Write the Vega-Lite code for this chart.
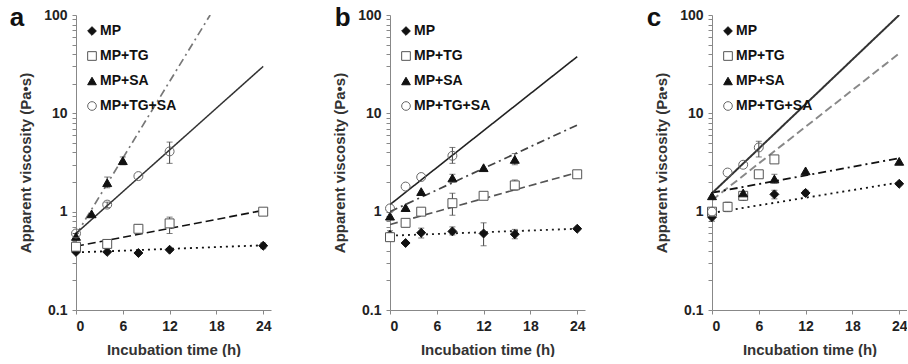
{
  "$schema": "https://vega.github.io/schema/vega-lite/v6.json",
  "padding": {"left": 9, "top": 5, "right": 0, "bottom": 0},
  "background": "white",
  "config": {
    "font": "Liberation Sans",
    "view": {"stroke": null},
    "axis": {
      "labelFont": "Liberation Sans", "labelFontSize": 14, "labelFontWeight": "bold", "labelColor": "#222",
      "titleFont": "Liberation Sans", "titleFontSize": 15, "titleFontWeight": "bold", "titleColor": "#333",
      "domainColor": "#888", "tickColor": "#888", "grid": false, "tickSize": 4, "labelPadding": 5
    },
    "legend": {
      "orient": "top-left", "offset": 9, "padding": 0, "labelFont": "Liberation Sans", "labelFontSize": 14,
      "labelFontWeight": "bold", "labelColor": "#111", "symbolSize": 75, "rowPadding": 11, "labelOffset": 1,
      "symbolStrokeWidth": 1
    },
    "title": {"font": "Liberation Sans", "fontSize": 26, "fontWeight": "bold", "color": "#111", "anchor": "start", "frame": "bounds", "offset": -23}
  },
  "datasets": {
    "points": [
      {"panel": "a", "series": "MP", "t": 0, "v": 0.39},
      {"panel": "a", "series": "MP", "t": 4, "v": 0.39},
      {"panel": "a", "series": "MP", "t": 8, "v": 0.38},
      {"panel": "a", "series": "MP", "t": 12, "v": 0.41},
      {"panel": "a", "series": "MP", "t": 24, "v": 0.45, "lo": 0.42, "hi": 0.48},
      {"panel": "a", "series": "MP+TG", "t": 0, "v": 0.44},
      {"panel": "a", "series": "MP+TG", "t": 4, "v": 0.47, "lo": 0.42, "hi": 0.52},
      {"panel": "a", "series": "MP+TG", "t": 8, "v": 0.67, "lo": 0.6, "hi": 0.74},
      {"panel": "a", "series": "MP+TG", "t": 12, "v": 0.76, "lo": 0.6, "hi": 0.88},
      {"panel": "a", "series": "MP+TG", "t": 24, "v": 1.0, "lo": 0.95, "hi": 1.05},
      {"panel": "a", "series": "MP+SA", "t": 0, "v": 0.56, "lo": 0.52, "hi": 0.6},
      {"panel": "a", "series": "MP+SA", "t": 2, "v": 0.95},
      {"panel": "a", "series": "MP+SA", "t": 4, "v": 1.97, "lo": 1.75, "hi": 2.25},
      {"panel": "a", "series": "MP+SA", "t": 6, "v": 3.3, "lo": 3.0, "hi": 3.6},
      {"panel": "a", "series": "MP+TG+SA", "t": 0, "v": 0.6},
      {"panel": "a", "series": "MP+TG+SA", "t": 4, "v": 1.18, "lo": 1.1, "hi": 1.25},
      {"panel": "a", "series": "MP+TG+SA", "t": 8, "v": 2.3},
      {"panel": "a", "series": "MP+TG+SA", "t": 12, "v": 4.1, "lo": 3.1, "hi": 5.1},

      {"panel": "b", "series": "MP", "t": 0, "v": 0.58, "lo": 0.52, "hi": 0.64},
      {"panel": "b", "series": "MP", "t": 2, "v": 0.48},
      {"panel": "b", "series": "MP", "t": 4, "v": 0.61, "lo": 0.54, "hi": 0.68},
      {"panel": "b", "series": "MP", "t": 8, "v": 0.63, "lo": 0.58, "hi": 0.7},
      {"panel": "b", "series": "MP", "t": 12, "v": 0.6, "lo": 0.45, "hi": 0.77},
      {"panel": "b", "series": "MP", "t": 16, "v": 0.59, "lo": 0.53, "hi": 0.66},
      {"panel": "b", "series": "MP", "t": 24, "v": 0.67},
      {"panel": "b", "series": "MP+TG", "t": 0, "v": 0.55},
      {"panel": "b", "series": "MP+TG", "t": 2, "v": 0.77, "lo": 0.7, "hi": 0.84},
      {"panel": "b", "series": "MP+TG", "t": 4, "v": 1.0, "lo": 0.95, "hi": 1.05},
      {"panel": "b", "series": "MP+TG", "t": 8, "v": 1.22, "lo": 0.92, "hi": 1.54},
      {"panel": "b", "series": "MP+TG", "t": 12, "v": 1.45, "lo": 1.38, "hi": 1.52},
      {"panel": "b", "series": "MP+TG", "t": 16, "v": 1.85, "lo": 1.65, "hi": 2.1},
      {"panel": "b", "series": "MP+TG", "t": 24, "v": 2.4, "lo": 2.3, "hi": 2.5},
      {"panel": "b", "series": "MP+SA", "t": 0, "v": 0.9},
      {"panel": "b", "series": "MP+SA", "t": 2, "v": 1.1},
      {"panel": "b", "series": "MP+SA", "t": 4, "v": 1.6},
      {"panel": "b", "series": "MP+SA", "t": 8, "v": 2.2, "lo": 2.0, "hi": 2.4},
      {"panel": "b", "series": "MP+SA", "t": 12, "v": 2.8},
      {"panel": "b", "series": "MP+SA", "t": 16, "v": 3.4, "lo": 3.0, "hi": 3.9},
      {"panel": "b", "series": "MP+TG+SA", "t": 0, "v": 1.08},
      {"panel": "b", "series": "MP+TG+SA", "t": 2, "v": 1.8},
      {"panel": "b", "series": "MP+TG+SA", "t": 4, "v": 2.25},
      {"panel": "b", "series": "MP+TG+SA", "t": 8, "v": 3.7, "lo": 3.1, "hi": 4.5},

      {"panel": "c", "series": "MP", "t": 0, "v": 0.88, "lo": 0.8, "hi": 0.95},
      {"panel": "c", "series": "MP", "t": 4, "v": 1.45, "lo": 1.3, "hi": 1.6},
      {"panel": "c", "series": "MP", "t": 8, "v": 1.5, "lo": 1.35, "hi": 1.65},
      {"panel": "c", "series": "MP", "t": 12, "v": 1.55, "lo": 1.45, "hi": 1.65},
      {"panel": "c", "series": "MP", "t": 24, "v": 1.92},
      {"panel": "c", "series": "MP+TG", "t": 0, "v": 1.0},
      {"panel": "c", "series": "MP+TG", "t": 2, "v": 1.12, "lo": 1.0, "hi": 1.25},
      {"panel": "c", "series": "MP+TG", "t": 4, "v": 1.45},
      {"panel": "c", "series": "MP+TG", "t": 6, "v": 2.4},
      {"panel": "c", "series": "MP+TG", "t": 8, "v": 3.4, "lo": 3.2, "hi": 3.6},
      {"panel": "c", "series": "MP+SA", "t": 0, "v": 1.45},
      {"panel": "c", "series": "MP+SA", "t": 4, "v": 1.55},
      {"panel": "c", "series": "MP+SA", "t": 8, "v": 2.15, "lo": 1.95, "hi": 2.4},
      {"panel": "c", "series": "MP+SA", "t": 12, "v": 2.6},
      {"panel": "c", "series": "MP+SA", "t": 24, "v": 3.25},
      {"panel": "c", "series": "MP+TG+SA", "t": 0, "v": 1.0},
      {"panel": "c", "series": "MP+TG+SA", "t": 2, "v": 2.5},
      {"panel": "c", "series": "MP+TG+SA", "t": 4, "v": 3.0},
      {"panel": "c", "series": "MP+TG+SA", "t": 6, "v": 4.5, "lo": 3.6, "hi": 5.2}
    ],
    "fits": [
      {"panel": "a", "fit": "MP", "t": 0, "v": 0.385},
      {"panel": "a", "fit": "MP", "t": 24, "v": 0.455},
      {"panel": "a", "fit": "MP+TG", "t": 0, "v": 0.445},
      {"panel": "a", "fit": "MP+TG", "t": 24, "v": 1.03},
      {"panel": "a", "fit": "MP+SA", "t": 0, "v": 0.58},
      {"panel": "a", "fit": "MP+SA", "t": 17.2, "v": 100},
      {"panel": "a", "fit": "MP+TG+SA", "t": 0, "v": 0.6},
      {"panel": "a", "fit": "MP+TG+SA", "t": 24, "v": 30},
      {"panel": "b", "fit": "MP", "t": 0, "v": 0.57},
      {"panel": "b", "fit": "MP", "t": 24, "v": 0.67},
      {"panel": "b", "fit": "MP+TG", "t": 0, "v": 0.74},
      {"panel": "b", "fit": "MP+TG", "t": 24, "v": 2.5},
      {"panel": "b", "fit": "MP+SA", "t": 0, "v": 1.0},
      {"panel": "b", "fit": "MP+SA", "t": 24, "v": 7.6},
      {"panel": "b", "fit": "MP+TG+SA", "t": 0, "v": 1.18},
      {"panel": "b", "fit": "MP+TG+SA", "t": 24, "v": 37.7},
      {"panel": "c", "fit": "MP", "t": 0, "v": 0.97},
      {"panel": "c", "fit": "MP", "t": 24, "v": 1.98},
      {"panel": "c", "fit": "MP+TG", "t": 0, "v": 1.31},
      {"panel": "c", "fit": "MP+TG", "t": 24, "v": 40.7},
      {"panel": "c", "fit": "MP+SA", "t": 0, "v": 1.56},
      {"panel": "c", "fit": "MP+SA", "t": 24, "v": 3.5},
      {"panel": "c", "fit": "MP+TG+SA", "t": 0, "v": 1.54},
      {"panel": "c", "fit": "MP+TG+SA", "t": 24, "v": 100}
    ]
  },
  "spacing": 61,
  "resolve": {
    "scale": {"color": "independent", "strokeDash": "independent", "strokeWidth": "independent", "shape": "independent", "fill": "independent", "stroke": "independent"},
    "legend": {"shape": "independent", "fill": "independent", "stroke": "independent"}
  },
  "hconcat": [
    {
      "width": 195, "height": 295,
      "title": {"text": "a", "dx": -9},
      "layer": [
        {
          "data": {"name": "fits"},
          "transform": [{"filter": "datum.panel == 'a'"}],
          "mark": {"type": "line", "clip": true},
          "encoding": {
            "x": {"field": "t", "type": "quantitative", "scale": {"domain": [0, 25], "nice": false},
                  "axis": {"values": [0, 6, 12, 18, 24], "title": "Incubation time (h)", "titlePadding": 9}},
            "y": {"field": "v", "type": "quantitative", "scale": {"type": "log", "domain": [0.1, 100], "nice": false},
                  "title": "Apparent viscosity (Pa•s)",
                  "axis": {"values": [0.1,0.2,0.3,0.4,0.5,0.6,0.7,0.8,0.9,1,2,3,4,5,6,7,8,9,10,20,30,40,50,60,70,80,90,100],
                           "format": "~g", "labelOverlap": false,
                           "labelExpr": "datum.value == 0.1 || datum.value == 1 || datum.value == 10 || datum.value == 100 ? datum.label : ''",
                           "titlePadding": 10}},
            "color": {"field": "fit", "type": "nominal", "legend": null,
                      "scale": {"range": ["#111111", "#777777", "#111111", "#333333"]}},
            "strokeDash": {"field": "fit", "type": "nominal", "legend": null,
                      "scale": {"range": [[2, 4], [8, 4, 2, 4], [8, 4], [1, 0]]}},
            "strokeWidth": {"field": "fit", "type": "nominal", "legend": null,
                      "scale": {"range": [1.8, 1.5, 2.2, 1.3]}}
          }
        },
        {
          "data": {"name": "points"},
          "transform": [{"filter": "datum.panel == 'a' && isValid(datum.lo)"}],
          "mark": {"type": "errorbar", "ticks": {"size": 6}, "color": "#444", "thickness": 1},
          "encoding": {
            "x": {"field": "t", "type": "quantitative"},
            "y": {"field": "lo", "type": "quantitative", "title": "Apparent viscosity (Pa•s)"},
            "y2": {"field": "hi"}
          }
        },
        {
          "data": {"name": "points"},
          "transform": [{"filter": "datum.panel == 'a'"}],
          "mark": {"type": "point", "opacity": 1, "strokeWidth": 1, "size": 80},
          "encoding": {
            "x": {"field": "t", "type": "quantitative"},
            "y": {"field": "v", "type": "quantitative", "title": "Apparent viscosity (Pa•s)"},
            "shape": {"field": "series", "type": "nominal", "legend": {"title": null, "orient": "top-left"},
                      "scale": {"domain": ["MP", "MP+TG", "MP+SA", "MP+TG+SA"], "range": ["diamond", "square", "triangle-up", "circle"]}},
            "fill": {"field": "series", "type": "nominal", "legend": {"title": null, "orient": "top-left"},
                      "scale": {"domain": ["MP", "MP+TG", "MP+SA", "MP+TG+SA"], "range": ["#111111", "white", "#111111", "transparent"]}},
            "stroke": {"field": "series", "type": "nominal", "legend": {"title": null, "orient": "top-left"},
                      "scale": {"domain": ["MP", "MP+TG", "MP+SA", "MP+TG+SA"], "range": ["#111111", "#555555", "#111111", "#666666"]}}
          }
        }
      ]
    },
    {
      "width": 195, "height": 295,
      "title": {"text": "b", "dx": 2},
      "layer": [
        {
          "data": {"name": "fits"},
          "transform": [{"filter": "datum.panel == 'b'"}],
          "mark": {"type": "line", "clip": true},
          "encoding": {
            "x": {"field": "t", "type": "quantitative", "scale": {"domain": [0, 25], "nice": false},
                  "axis": {"values": [0, 6, 12, 18, 24], "title": "Incubation time (h)", "titlePadding": 9}},
            "y": {"field": "v", "type": "quantitative", "scale": {"type": "log", "domain": [0.1, 100], "nice": false},
                  "title": "Apparent viscosity (Pa•s)",
                  "axis": {"values": [0.1,0.2,0.3,0.4,0.5,0.6,0.7,0.8,0.9,1,2,3,4,5,6,7,8,9,10,20,30,40,50,60,70,80,90,100],
                           "format": "~g", "labelOverlap": false,
                           "labelExpr": "datum.value == 0.1 || datum.value == 1 || datum.value == 10 || datum.value == 100 ? datum.label : ''",
                           "titlePadding": 10}},
            "color": {"field": "fit", "type": "nominal", "legend": null,
                      "scale": {"range": ["#222222", "#444444", "#555555", "#222222"]}},
            "strokeDash": {"field": "fit", "type": "nominal", "legend": null,
                      "scale": {"range": [[2, 4], [8, 4, 2, 4], [8, 4], [1, 0]]}},
            "strokeWidth": {"field": "fit", "type": "nominal", "legend": null,
                      "scale": {"range": [1.8, 1.6, 1.6, 1.3]}}
          }
        },
        {
          "data": {"name": "points"},
          "transform": [{"filter": "datum.panel == 'b' && isValid(datum.lo)"}],
          "mark": {"type": "errorbar", "ticks": {"size": 6}, "color": "#444", "thickness": 1},
          "encoding": {
            "x": {"field": "t", "type": "quantitative"},
            "y": {"field": "lo", "type": "quantitative", "title": "Apparent viscosity (Pa•s)"},
            "y2": {"field": "hi"}
          }
        },
        {
          "data": {"name": "points"},
          "transform": [{"filter": "datum.panel == 'b'"}],
          "mark": {"type": "point", "opacity": 1, "strokeWidth": 1, "size": 80},
          "encoding": {
            "x": {"field": "t", "type": "quantitative"},
            "y": {"field": "v", "type": "quantitative", "title": "Apparent viscosity (Pa•s)"},
            "shape": {"field": "series", "type": "nominal", "legend": {"title": null, "orient": "top-left"},
                      "scale": {"domain": ["MP", "MP+TG", "MP+SA", "MP+TG+SA"], "range": ["diamond", "square", "triangle-up", "circle"]}},
            "fill": {"field": "series", "type": "nominal", "legend": {"title": null, "orient": "top-left"},
                      "scale": {"domain": ["MP", "MP+TG", "MP+SA", "MP+TG+SA"], "range": ["#111111", "white", "#111111", "transparent"]}},
            "stroke": {"field": "series", "type": "nominal", "legend": {"title": null, "orient": "top-left"},
                      "scale": {"domain": ["MP", "MP+TG", "MP+SA", "MP+TG+SA"], "range": ["#111111", "#555555", "#111111", "#666666"]}}
          }
        }
      ]
    },
    {
      "width": 195, "height": 295,
      "title": {"text": "c", "dx": -8},
      "layer": [
        {
          "data": {"name": "fits"},
          "transform": [{"filter": "datum.panel == 'c'"}],
          "mark": {"type": "line", "clip": true},
          "encoding": {
            "x": {"field": "t", "type": "quantitative", "scale": {"domain": [0, 25], "nice": false},
                  "axis": {"values": [0, 6, 12, 18, 24], "title": "Incubation time (h)", "titlePadding": 9}},
            "y": {"field": "v", "type": "quantitative", "scale": {"type": "log", "domain": [0.1, 100], "nice": false},
                  "title": "Apparent viscosity (Pa•s)",
                  "axis": {"values": [0.1,0.2,0.3,0.4,0.5,0.6,0.7,0.8,0.9,1,2,3,4,5,6,7,8,9,10,20,30,40,50,60,70,80,90,100],
                           "format": "~g", "labelOverlap": false,
                           "labelExpr": "datum.value == 0.1 || datum.value == 1 || datum.value == 10 || datum.value == 100 ? datum.label : ''",
                           "titlePadding": 10}},
            "color": {"field": "fit", "type": "nominal", "legend": null,
                      "scale": {"range": ["#111111", "#111111", "#888888", "#333333"]}},
            "strokeDash": {"field": "fit", "type": "nominal", "legend": null,
                      "scale": {"range": [[2, 4], [8, 4, 2, 4], [8, 4], [1, 0]]}},
            "strokeWidth": {"field": "fit", "type": "nominal", "legend": null,
                      "scale": {"range": [1.8, 2.0, 1.5, 1.3]}}
          }
        },
        {
          "data": {"name": "points"},
          "transform": [{"filter": "datum.panel == 'c' && isValid(datum.lo)"}],
          "mark": {"type": "errorbar", "ticks": {"size": 6}, "color": "#444", "thickness": 1},
          "encoding": {
            "x": {"field": "t", "type": "quantitative"},
            "y": {"field": "lo", "type": "quantitative", "title": "Apparent viscosity (Pa•s)"},
            "y2": {"field": "hi"}
          }
        },
        {
          "data": {"name": "points"},
          "transform": [{"filter": "datum.panel == 'c'"}],
          "mark": {"type": "point", "opacity": 1, "strokeWidth": 1, "size": 80},
          "encoding": {
            "x": {"field": "t", "type": "quantitative"},
            "y": {"field": "v", "type": "quantitative", "title": "Apparent viscosity (Pa•s)"},
            "shape": {"field": "series", "type": "nominal", "legend": {"title": null, "orient": "top-left"},
                      "scale": {"domain": ["MP", "MP+TG", "MP+SA", "MP+TG+SA"], "range": ["diamond", "square", "triangle-up", "circle"]}},
            "fill": {"field": "series", "type": "nominal", "legend": {"title": null, "orient": "top-left"},
                      "scale": {"domain": ["MP", "MP+TG", "MP+SA", "MP+TG+SA"], "range": ["#111111", "white", "#111111", "transparent"]}},
            "stroke": {"field": "series", "type": "nominal", "legend": {"title": null, "orient": "top-left"},
                      "scale": {"domain": ["MP", "MP+TG", "MP+SA", "MP+TG+SA"], "range": ["#111111", "#555555", "#111111", "#666666"]}}
          }
        }
      ]
    }
  ]
}
